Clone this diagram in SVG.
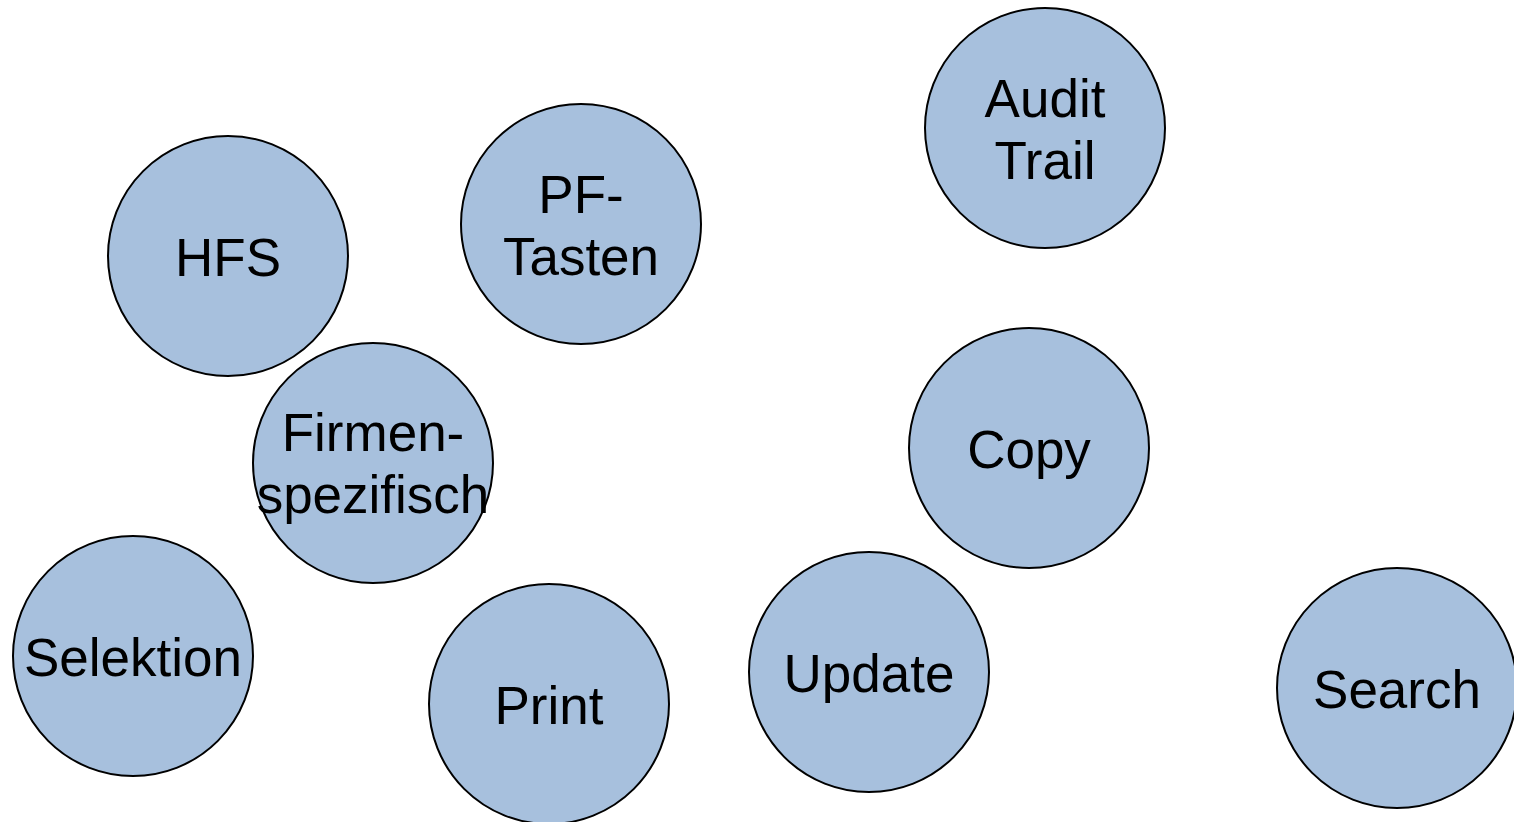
<svg xmlns="http://www.w3.org/2000/svg" width="1514" height="822" viewBox="0 0 1514 822">
<style>
.n circle{fill:#a7c0dd;stroke:#000;stroke-width:2}
.n text{font-family:"Liberation Sans",Arial,sans-serif;font-size:53px;fill:#000;text-anchor:middle}
</style>
<rect width="1514" height="822" fill="#fff"/>
<g id="connectors"/>
<g id="hfs" class="n"><circle cx="228" cy="256" r="120"/><text x="228" y="276">HFS</text></g>
<g id="pf-tasten" class="n"><circle cx="581" cy="224" r="120"/><text x="581" y="213">PF-</text><text x="581" y="275">Tasten</text></g>
<g id="audit-trail" class="n"><circle cx="1045" cy="128" r="120"/><text x="1045" y="117">Audit</text><text x="1045" y="179">Trail</text></g>
<g id="firmenspezifisch" class="n"><circle cx="373" cy="463" r="120"/><text x="373" y="451">Firmen-</text><text x="373" y="513">spezifisch</text></g>
<g id="copy" class="n"><circle cx="1029" cy="448" r="120"/><text x="1029" y="468">Copy</text></g>
<g id="selektion" class="n"><circle cx="133" cy="656" r="120"/><text x="133" y="676">Selektion</text></g>
<g id="print" class="n"><circle cx="549" cy="704" r="120"/><text x="549" y="724">Print</text></g>
<g id="update" class="n"><circle cx="869" cy="672" r="120"/><text x="869" y="692">Update</text></g>
<g id="search" class="n"><circle cx="1397" cy="688" r="120"/><text x="1397" y="708">Search</text></g>
</svg>
